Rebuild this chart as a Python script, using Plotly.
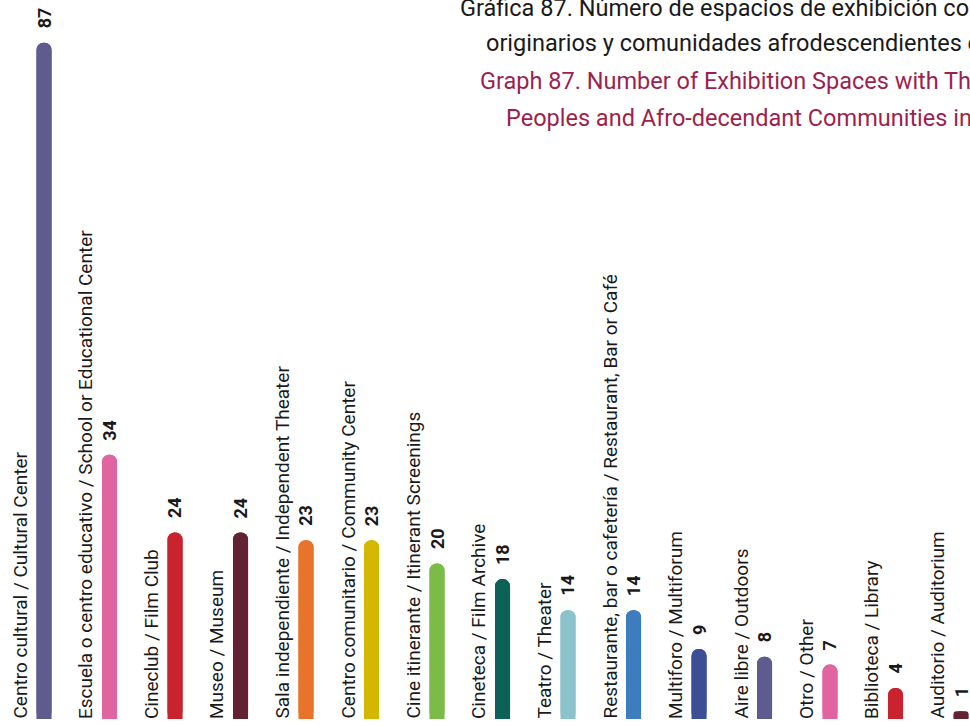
import plotly.graph_objects as go

categorias = [
    "Centro cultural / Cultural Center",
    "Escuela o centro educativo / School or Educational Center",
    "Cineclub / Film Club",
    "Museo / Museum",
    "Sala independiente / Independent Theater",
    "Centro comunitario / Community Center",
    "Cine itinerante / Itinerant Screenings",
    "Cineteca / Film Archive",
    "Teatro / Theater",
    "Restaurante, bar o cafetería / Restaurant, Bar or Café",
    "Multiforo / Multiforum",
    "Aire libre / Outdoors",
    "Otro / Other",
    "Biblioteca / Library",
    "Auditorio / Auditorium",
]
valores = [87, 34, 24, 24, 23, 23, 20, 18, 14, 14, 9, 8, 7, 4, 1]
colores = [
    "#5e5b8f", "#e0649f", "#c8232f", "#632234", "#e8732a",
    "#d4b800", "#7bbb47", "#0e6157", "#8bc2cc", "#3d7cbd",
    "#3c4e96", "#5e5b8f", "#e0649f", "#c8232f", "#632234",
]
titulo = [
    "Gráfica 87. Número de espacios de exhibición con temáticas de pueblos",
    "originarios y comunidades afrodescendientes en 2023",
    "Graph 87. Number of Exhibition Spaces with Themes of Native",
    "Peoples and Afro-decendant Communities in 2023",
]

FUENTE = "Roboto"
x = list(range(len(categorias)))

fig = go.Figure()
# pill shaped bars: one rounded at the top, one rounded at the bottom
fig.add_trace(go.Bar(
    x=x, y=valores, width=0.23,
    marker=dict(color=colores, cornerradius="50%", line_width=0),
    hoverinfo="skip",
))
fig.add_trace(go.Bar(
    x=x, y=[-v for v in valores], base=valores, width=0.23,
    marker=dict(color=colores, cornerradius="50%", line_width=0),
    hoverinfo="skip",
))

anotaciones = []
for i, (cat, v) in enumerate(zip(categorias, valores)):
    anotaciones.append(dict(
        x=i, y=v, text="<b>%d</b>" % v, showarrow=False, textangle=-90,
        xanchor="center", yanchor="bottom", yshift=12,
        font=dict(family=FUENTE, size=18, color="#1a1a1a"),
    ))
    anotaciones.append(dict(
        x=i, y=0, text=cat, showarrow=False, textangle=-90,
        xanchor="center", yanchor="bottom", xshift=-24, yshift=-2,
        font=dict(family=FUENTE, size=19, color="#1a1a1a"),
    ))

# title lines (cut at the right edge like the original)
pos_x = [458, 484, 478, 504]
pos_y = [8, 43, 81, 118]
col_t = ["#1a1a1a", "#1a1a1a", "#9e1f4e", "#9e1f4e"]
for linea, px, py, c in zip(titulo, pos_x, pos_y, col_t):
    anotaciones.append(dict(
        xref="paper", yref="paper", x=px / 970, y=1 - py / 719,
        text=linea, showarrow=False, xanchor="left", yanchor="middle",
        font=dict(family=FUENTE, size=23.5, color=c),
    ))

fig.update_layout(
    width=970, height=726,
    margin=dict(l=0, r=0, t=0, b=7),
    barmode="overlay",
    showlegend=False,
    plot_bgcolor="white", paper_bgcolor="white",
    xaxis=dict(range=[-0.672, 14.137], visible=False),
    yaxis=dict(range=[0, 92.5], visible=False),
    annotations=anotaciones,
)

fig.write_html(
    "out.html",
    config={"displayModeBar": False},
    post_script="document.body.style.margin='0';document.body.style.overflow='hidden';",
)
